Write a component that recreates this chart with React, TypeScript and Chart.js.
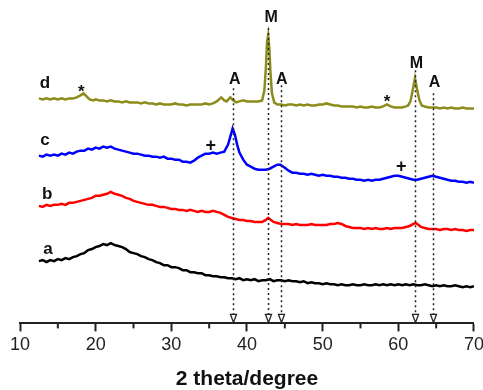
import React, { useEffect, useRef } from "react";
import { Chart, registerables } from "chart.js";

Chart.register(...registerables);

// 2θ (degree) positions and relative intensities for each sample
const aX = [12.5,13,13.5,14,14.5,15,15.5,16,16.5,17,17.5,18,18.5,19,19.5,20,20.5,21,21.5,22,22.5,23,23.5,24,24.5,25,25.5,26,26.5,27,27.5,28,28.5,29,29.5,30,30.5,31,31.5,32,32.5,33,33.5,34,34.5,35,35.5,36,36.5,37,37.5,38,38.5,39,39.5,40,40.5,41,41.5,42,42.5,43,43.5,44,44.5,45,45.5,46,46.5,47,47.5,48,48.5,49,49.5,50,50.5,51,51.5,52,52.5,53,53.5,54,54.5,55,55.5,56,56.5,57,57.5,58,58.5,59,59.5,60,60.5,61,61.5,62,62.5,63,63.5,64,64.5,65,65.5,66,66.5,67,67.5,68,68.5,69,69.5,70];
const aY = [62,63,61,63,62,64,63,65,64,66,67,69,70,73,74,76,77,79,78,80,78,77,76,74,71,70,69,67,66,64,63,61,60,58,58,56,56,55,53,53,51,51,50,50,48,48,47,47,46,46,45,45,44,45,43,44,43,44,42,43,43,44,42,43,43,42,43,42,42,41,42,40,41,40,40,39,40,39,39,38,39,38,38,39,38,38,39,38,38,39,38,39,38,39,38,39,38,39,38,39,38,38,39,38,37,38,37,38,37,37,38,37,36,37,36,37];

const bX = [12.5,13,13.5,14,14.5,15,15.5,16,16.5,17,17.5,18,18.5,19,19.5,20,20.5,21,21.5,22,22.5,23,23.5,24,24.5,25,25.5,26,26.5,27,27.5,28,28.5,29,29.5,30,30.5,31,31.5,32,32.5,33,33.5,34,34.5,35,35.5,36,36.5,37,37.5,38,38.5,39,39.5,40,40.5,41,41.5,42,42.5,42.8,43,43.5,44,44.5,45,45.5,46,46.5,47,47.5,48,48.5,49,49.5,50,50.5,51,51.5,52,52.5,53,53.5,54,54.5,55,55.5,56,56.5,57,57.5,58,58.5,59,59.5,60,60.5,61,61.5,62,62.3,62.5,63,63.5,64,64.5,65,65.5,66,66.5,67,67.5,68,68.5,69,69.5,70];
const bY = [117,116,118,117,118,118,119,118,120,120,121,122,123,124,125,127,127,128,129,131,129,128,127,125,124,122,121,120,119,118,118,117,116,116,115,114,114,113,113,112,113,112,111,112,111,111,112,111,110,108,106,105,104,103,103,102,102,101,101,101,103,105,104,101,100,99,99,99,98,99,98,98,98,99,98,98,98,98,99,99,100,99,97,96,95,95,95,94,95,94,95,94,94,95,94,95,95,95,96,97,99,100,99,96,95,94,94,94,93,94,94,93,94,93,93,92,93,93];

const cX = [12.5,13,13.5,14,14.5,15,15.5,16,16.5,17,17.5,18,18.5,19,19.5,20,20.5,21,21.5,22,22.5,23,23.5,24,24.5,25,25.5,26,26.5,27,27.5,28,28.5,29,29.5,30,30.5,31,31.5,32,32.5,33,33.5,34,34.5,35,35.5,36,36.5,37,37.5,37.8,38.1,38.4,38.7,39,39.5,40,40.5,41,41.5,42,42.5,43,43.5,44,44.4,45,45.5,46,46.5,47,47.5,48,48.5,49,49.5,50,50.5,51,51.5,52,52.5,53,53.5,54,54.5,55,55.5,56,56.5,57,57.5,58,58.5,59,59.5,60,60.5,61,61.5,62,62.5,63,63.5,64,64.5,65,65.5,66,66.5,67,67.5,68,68.5,69,69.5,70];
const cY = [167,166,168,167,168,167,169,168,170,169,171,172,172,174,173,175,174,176,175,176,174,173,172,171,170,169,169,168,167,167,166,166,165,166,164,164,163,163,161,161,160,162,165,167,169,169,170,169,170,171,178,186,194,188,178,170,163,158,156,154,153,153,153,154,156,158,158,155,152,150,150,149,149,148,149,148,147,148,147,147,146,146,145,145,144,144,143,143,142,143,142,143,143,144,145,146,147,147,146,145,144,143,143,144,145,146,147,146,145,144,143,142,142,141,141,140,141,140];

const dX = [12.5,13,13.5,14,14.5,15,15.5,16,16.5,17,17.5,18,18.4,18.8,19.2,19.7,20,20.5,21,21.5,22,22.5,23,23.5,24,24.5,25,25.5,26,26.5,27,27.5,28,28.5,29,29.5,30,30.5,31,31.5,32,32.5,33,33.5,34,34.5,35,35.5,36,36.6,37,37.3,37.8,38.2,38.6,39,39.5,40,40.5,41,41.5,42,42.3,42.5,42.65,42.8,42.95,43.1,43.3,43.6,44,44.5,45,45.5,46,46.5,47,47.5,48,48.5,49,49.5,50,50.5,51,51.5,52,52.5,53,53.5,54,54.5,55,55.5,56,56.5,57,57.5,58,58.5,59,59.5,60,60.5,61,61.3,61.6,61.9,62.2,62.5,62.8,63.1,63.5,64,64.5,65,65.5,66,66.5,67,67.5,68,68.5,69,69.5,70];
const dY = [224,223,224,223,224,223,224,223,224,224,225,227,229,226,223,222,223,222,222,221,222,221,221,220,221,220,220,220,219,220,219,219,218,219,218,218,218,219,218,218,217,218,218,218,218,219,218,219,221,225,222,221,225,222,220,221,222,221,221,221,221,222,232,255,280,287,274,250,229,220,218,218,217,218,218,217,218,217,218,217,217,218,218,219,218,217,217,216,216,216,216,215,216,215,215,216,215,215,216,218,216,215,215,215,216,217,221,232,244,232,222,217,216,215,215,215,214,215,214,215,214,214,215,214,214,214];

const xTicks = [10, 20, 30, 40, 50, 60, 70];
const xMinorTicks = [15, 25, 35, 45, 55, 65];
const xTitle = "2 theta/degree";

// labels placed at (2θ, intensity)
const curveLabels = [
  { t: "d", x: 13.3, y: 239 },
  { t: "c", x: 13.3, y: 182 },
  { t: "b", x: 13.6, y: 129 },
  { t: "a", x: 13.7, y: 74 },
];
const peakMarks = [
  { t: "*", x: 18.1, y: 233 },
  { t: "*", x: 58.5, y: 223 },
  { t: "+", x: 35.2, y: 177 },
  { t: "+", x: 60.4, y: 156 },
  { t: "A", x: 38.4, y: 243 },
  { t: "A", x: 44.6, y: 243 },
  { t: "A", x: 64.8, y: 240 },
  { t: "M", x: 43.2, y: 304 },
  { t: "M", x: 62.4, y: 259 },
];
const refLines = [
  { x: 38.15, top: 234 },
  { x: 42.8, top: 294 },
  { x: 44.45, top: 237 },
  { x: 62.2, top: 252 },
  { x: 64.6, top: 229 },
];

const FONT = "'Liberation Sans', Arial, sans-serif";

function pts(xs: number[], ys: number[]) {
  return xs.map((x, i) => ({ x, y: ys[i] }));
}

const overlay = {
  id: "xrdOverlay",
  afterDatasetsDraw(chart: any) {
    const { ctx, scales, chartArea } = chart;
    const xs = scales.x;
    const ys = scales.y;
    ctx.save();
    ctx.strokeStyle = "#222";
    for (const l of refLines) {
      const px = Math.round(xs.getPixelForValue(l.x)) + 0.5;
      const top = ys.getPixelForValue(l.top);
      const bottom = chartArea.bottom - 1;
      ctx.setLineDash([2, 3]);
      ctx.lineWidth = 1.5;
      ctx.beginPath();
      ctx.moveTo(px, top);
      ctx.lineTo(px, bottom - 8);
      ctx.stroke();
      ctx.setLineDash([]);
      ctx.lineWidth = 1.3;
      ctx.beginPath();
      ctx.moveTo(px - 3, bottom - 8);
      ctx.lineTo(px, bottom);
      ctx.lineTo(px + 3, bottom - 8);
      ctx.closePath();
      ctx.stroke();
    }
    ctx.strokeStyle = "#222";
    ctx.lineWidth = 2;
    for (const v of xMinorTicks) {
      const px = xs.getPixelForValue(v);
      ctx.beginPath();
      ctx.moveTo(px, chartArea.bottom);
      ctx.lineTo(px, chartArea.bottom + 5);
      ctx.stroke();
    }
    ctx.fillStyle = "#111";
    ctx.textAlign = "center";
    ctx.textBaseline = "middle";
    ctx.font = `bold 17px ${FONT}`;
    for (const l of curveLabels) {
      ctx.fillText(l.t, xs.getPixelForValue(l.x), ys.getPixelForValue(l.y));
    }
    for (const m of peakMarks) {
      ctx.font = m.t === "*" ? `bold 17px ${FONT}` : m.t === "+" ? `bold 18px ${FONT}` : `bold 16px ${FONT}`;
      const yoff = m.t === "*" ? 3 : 0;
      ctx.fillText(m.t, xs.getPixelForValue(m.x), ys.getPixelForValue(m.y) + yoff);
    }
    ctx.restore();
  },
};

export default function App() {
  const ref = useRef<HTMLCanvasElement | null>(null);
  useEffect(() => {
    document.body.style.margin = "0";
    const chart = new Chart(ref.current as HTMLCanvasElement, {
      type: "line",
      data: {
        datasets: [
          { label: "a", data: pts(aX, aY), borderColor: "#000000" },
          { label: "b", data: pts(bX, bY), borderColor: "#ff0000" },
          { label: "c", data: pts(cX, cY), borderColor: "#0000ff" },
          { label: "d", data: pts(dX, dY), borderColor: "#8c8c1a" },
        ].map((d) => ({ ...d, borderWidth: 2.5, pointRadius: 0, tension: 0, fill: false })),
      },
      options: {
        animation: false,
        responsive: false,
        layout: { padding: { left: 20, right: 8, top: 10, bottom: 0 } },
        plugins: { legend: { display: false }, tooltip: { enabled: false } },
        scales: {
          x: {
            type: "linear",
            min: 10,
            max: 70,
            afterBuildTicks: (s: any) => {
              s.ticks = xTicks.map((v) => ({ value: v }));
            },
            border: { display: true, color: "#222", width: 2 },
            grid: { drawOnChartArea: false, drawTicks: true, tickLength: 8, tickWidth: 2, tickColor: "#222" },
            ticks: { color: "#222", font: { family: FONT, size: 18 }, padding: 3, maxRotation: 0 },
            title: {
              display: true,
              text: xTitle,
              color: "#111",
              font: { family: FONT, size: 21, weight: "bold", lineHeight: 1 },
              padding: { top: 10, bottom: 0 },
            },
          },
          y: { type: "linear", display: false, min: 0, max: 312 },
        },
      },
      plugins: [overlay],
    } as any);
    return () => chart.destroy();
  }, []);
  return (
    <div style={{ position: "fixed", left: 0, top: 0, width: 483, height: 390, overflow: "hidden", background: "#fff" }}>
      <canvas ref={ref} width={487} height={390} style={{ width: 487, height: 390, display: "block" }} />
    </div>
  );
}
